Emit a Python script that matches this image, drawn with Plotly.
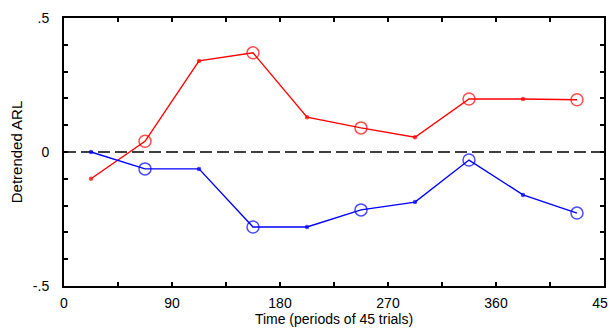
import plotly.graph_objects as go

time = [22.5, 67.5, 112.5, 157.5, 202.5, 247.5, 292.5, 337.5, 382.5, 427.5]
red_vals = [-0.10, 0.04, 0.34, 0.37, 0.13, 0.09, 0.055, 0.198, 0.198, 0.195]
blue_vals = [0.0, -0.063, -0.063, -0.28, -0.28, -0.216, -0.187, -0.03, -0.16, -0.228]

x_ticks = [0, 45, 90, 135, 180, 225, 270, 315, 360, 405, 450]
x_labels = ["0", "", "90", "", "180", "", "270", "", "360", "", "450"]
y_ticks = [-0.5, -0.4, -0.3, -0.2, -0.1, 0, 0.1, 0.2, 0.3, 0.4, 0.5]
y_labels = ["-.5", "", "", "", "", "0", "", "", "", "", ".5"]

symbols = ["circle" if i % 2 == 0 else "circle-open" for i in range(len(time))]
sizes = [3 if i % 2 == 0 else 12 for i in range(len(time))]

fig = go.Figure()
fig.add_trace(go.Scatter(x=[0, 450], y=[0, 0], mode="lines",
                         line=dict(color="black", width=1.5, dash="12px,5px"),
                         hoverinfo="skip", showlegend=False))
for vals, col in [(red_vals, "#ff0000"), (blue_vals, "#0000ff")]:
    fig.add_trace(go.Scatter(x=time, y=vals, mode="lines+markers",
                             line=dict(color=col, width=1.4),
                             marker=dict(symbol=symbols, size=sizes, color=col,
                                         line=dict(color=col, width=1.5)),
                             showlegend=False))

font = dict(family="Liberation Sans, Arial, sans-serif", size=14, color="black")
# page body has an 8px default margin, so the figure is 8px smaller and shifted
fig.update_layout(
    width=608, height=323,
    margin=dict(l=56, r=12, t=10, b=45),
    paper_bgcolor="white", plot_bgcolor="white",
    font=font,
    xaxis=dict(range=[0, 450], tickvals=x_ticks, ticktext=x_labels,
               ticks="inside", ticklen=4, tickwidth=1.5, tickcolor="black",
               showline=True, linecolor="black", linewidth=2, mirror="ticks",
               showgrid=False, zeroline=False, automargin=False,
               ticklabelstandoff=3,
               title=dict(text="Time (periods of 45 trials)", standoff=4,
                          font=dict(size=14)),
               tickfont=font),
    yaxis=dict(range=[-0.5, 0.5], tickvals=y_ticks, ticktext=y_labels,
               ticks="inside", ticklen=4, tickwidth=1.5, tickcolor="black",
               showline=True, linecolor="black", linewidth=2, mirror="ticks",
               showgrid=False, zeroline=False, automargin=False,
               ticklabelstandoff=10,
               title=dict(text="Detrended ARL", standoff=16,
                          font=dict(size=15)),
               tickfont=font),
)
fig.write_html("out.html")
